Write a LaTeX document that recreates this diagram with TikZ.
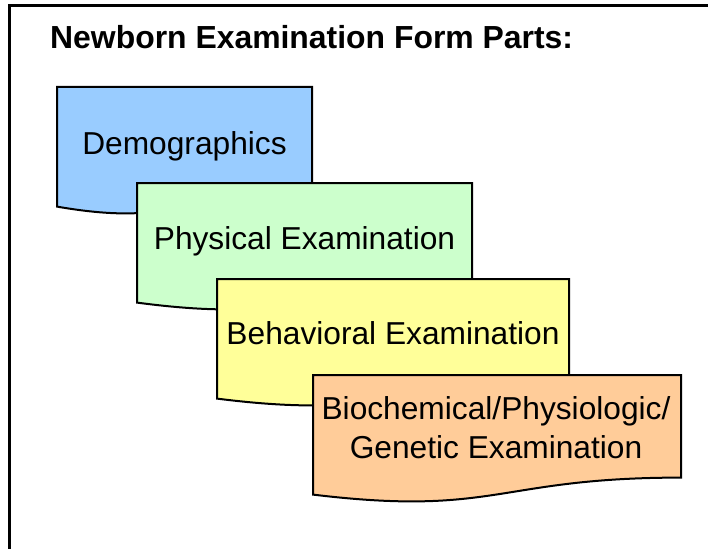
\documentclass[tikz,border=0pt]{standalone}
\usepackage{fontspec}
\setmainfont{Liberation Sans}

\definecolor{demoblue}{HTML}{99CCFF}
\definecolor{physgreen}{HTML}{CCFFCC}
\definecolor{behavyellow}{HTML}{FFFF99}
\definecolor{biochemorange}{HTML}{FFCC99}

\tikzset{
  formpart/.style={draw=black, line width=2pt, line join=miter},
  parttext/.style={anchor=base, align=center, inner sep=0pt, font=\fontsize{31.7}{39}\selectfont},
}

\begin{document}
\begin{tikzpicture}[x=1pt,y=-1pt]
\useasboundingbox (0,0) rectangle (708,548);
\clip (0,0) rectangle (708,548);
\draw[line width=3pt] (9.5,6) rectangle (730,570);
\node[anchor=base west, inner sep=0pt, font=\bfseries\fontsize{31.9}{38}\selectfont] (title) at (50,49) {Newborn Examination Form Parts:};

\filldraw[formpart, fill=demoblue] (57,87) -- (312,87) -- (312,189.6) .. controls (184.5,189.6) and (184.5,228.8) .. (57,206.6) -- cycle;
\node[parttext] (demo) at (184.5,154) {Demographics};

\filldraw[formpart, fill=physgreen] (137,183) -- (472,183) -- (472,285.6) .. controls (304.5,285.6) and (304.5,324.8) .. (137,302.6) -- cycle;
\node[parttext] (phys) at (304.5,249) {Physical Examination};

\filldraw[formpart, fill=behavyellow] (217,279) -- (569,279) -- (569,381.6) .. controls (393,381.6) and (393,420.8) .. (217,398.6) -- cycle;
\node[parttext] (behav) at (393,344) {Behavioral Examination};

\filldraw[formpart, fill=biochemorange] (313,375) -- (681,375) -- (681,477.6) .. controls (497,477.6) and (497,516.8) .. (313,494.6) -- cycle;
\node[parttext, anchor=center] (biochem) at (496,428) {Biochemical/Physiologic/\\Genetic Examination};
\end{tikzpicture}
\end{document}
